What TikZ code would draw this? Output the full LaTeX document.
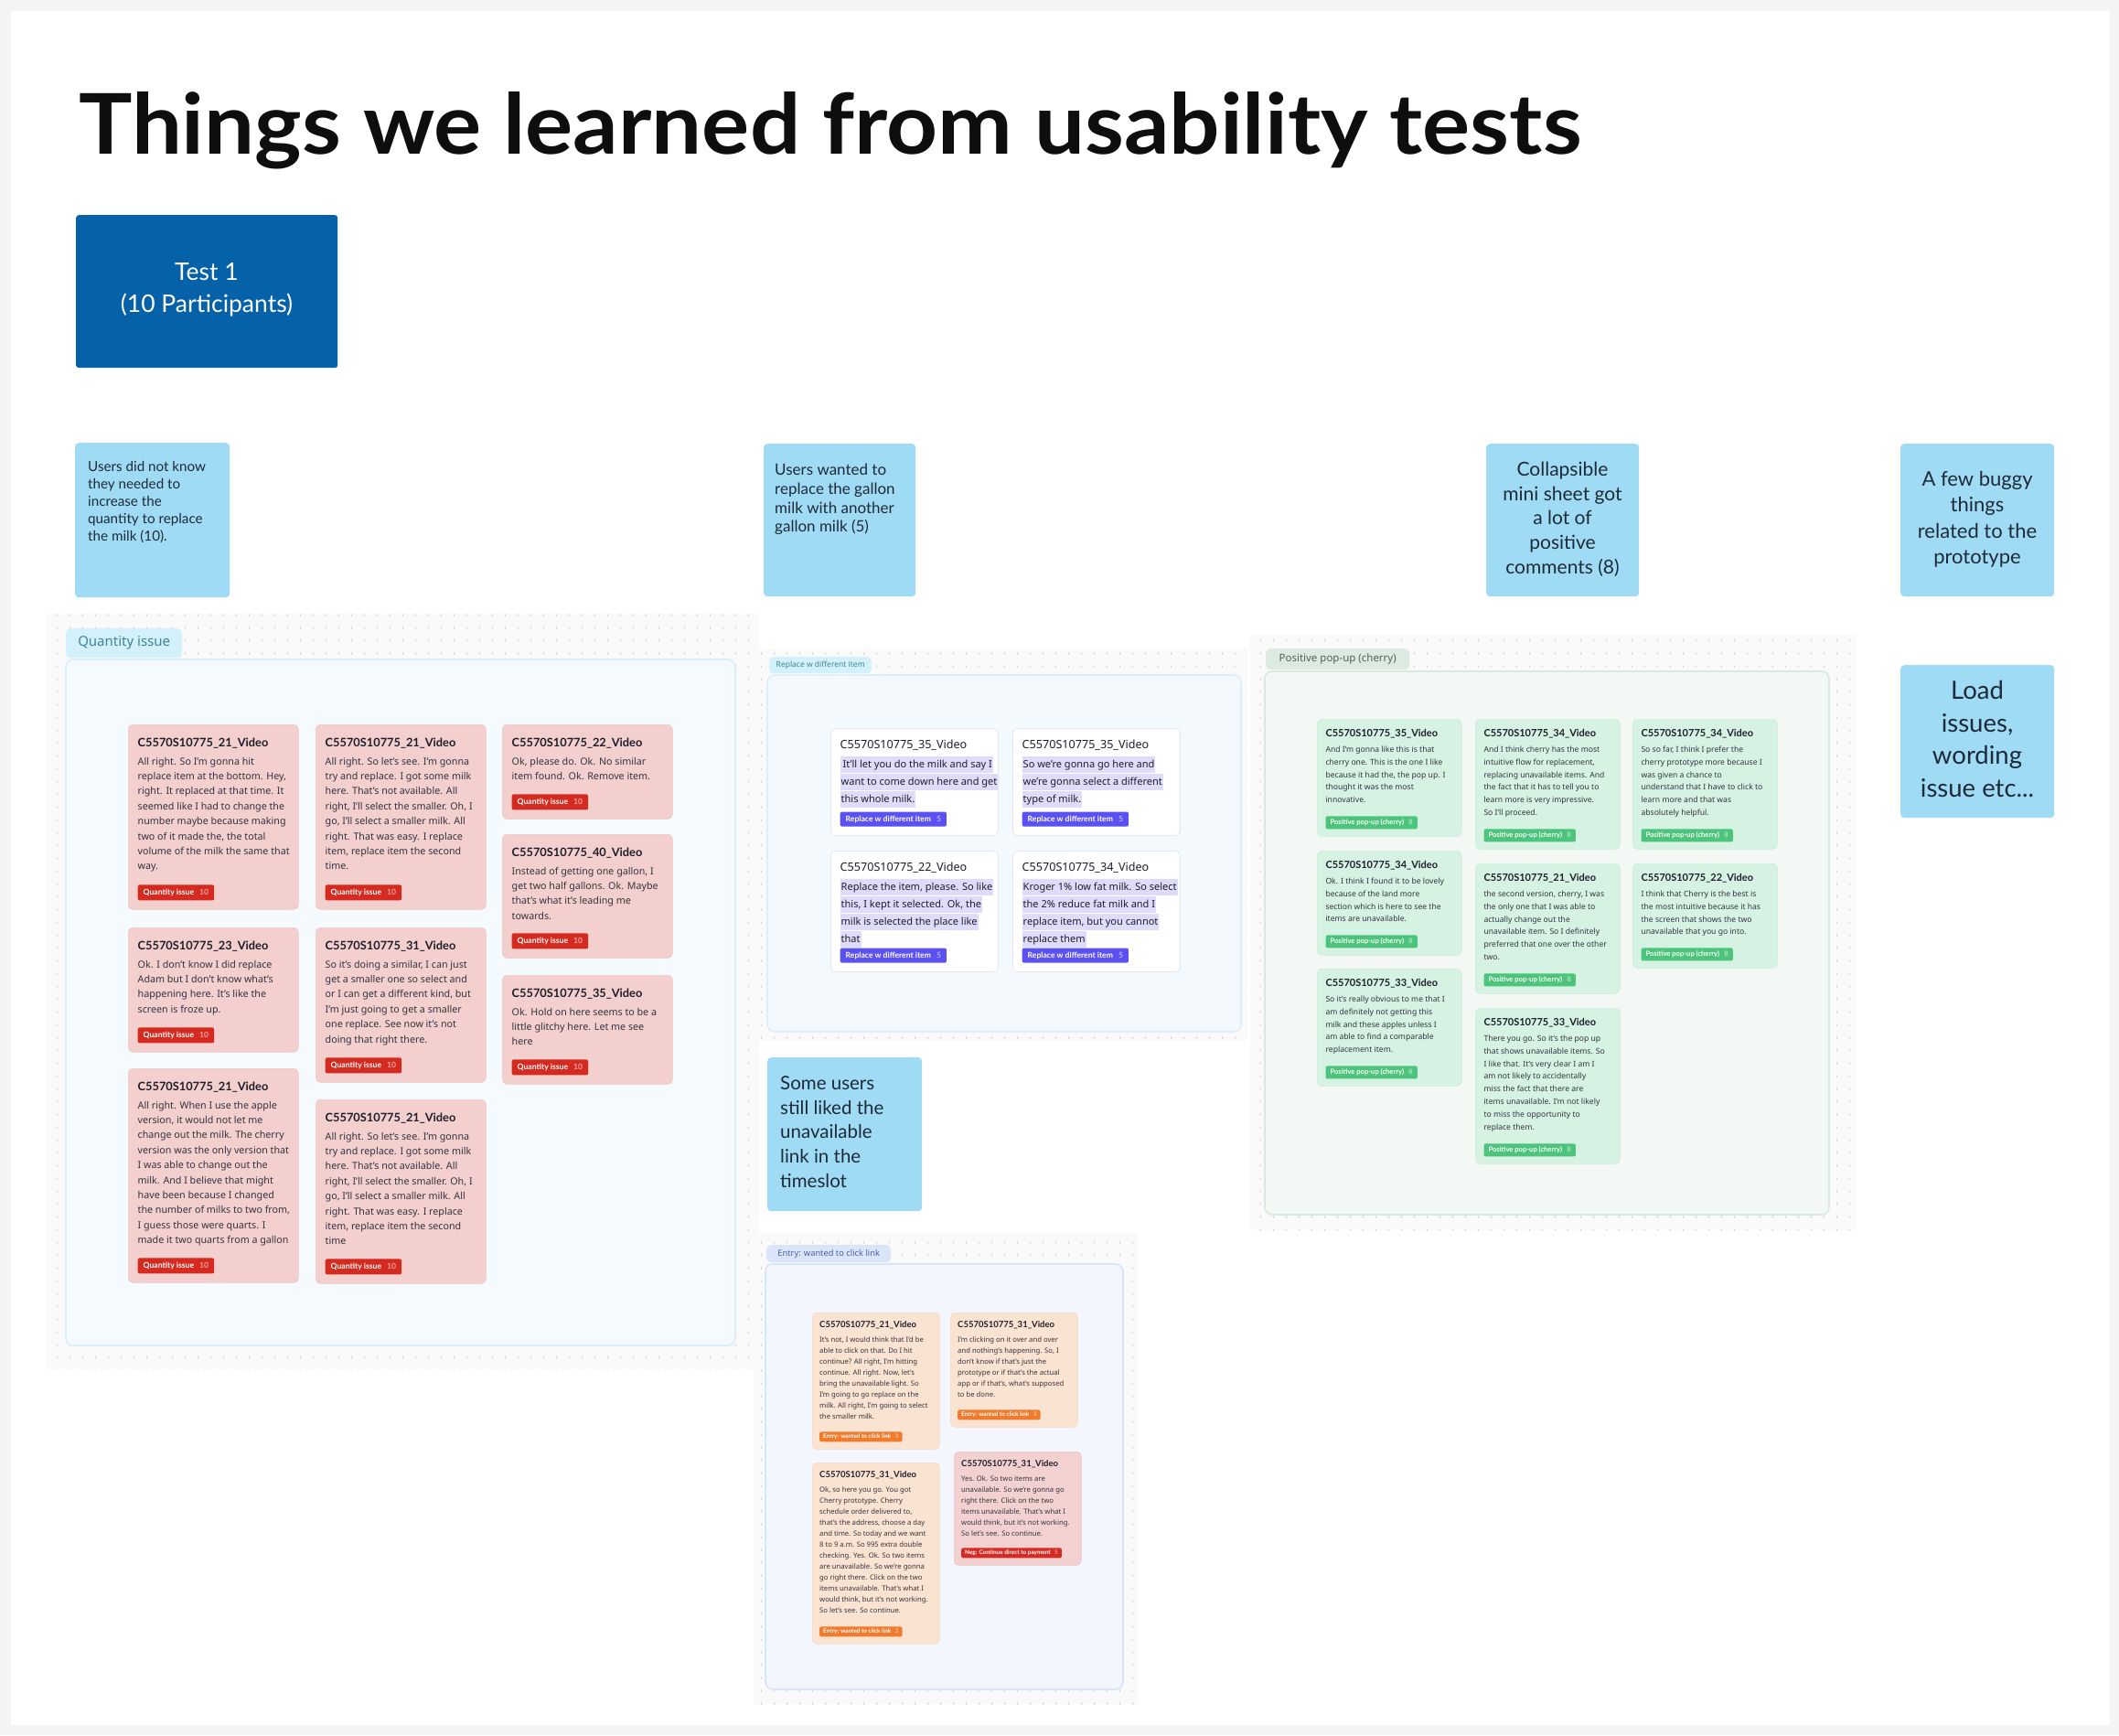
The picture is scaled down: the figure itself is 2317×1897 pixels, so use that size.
\documentclass[tikz,border=0pt]{standalone}
\usepackage{fontspec}
\usepackage{graphicx}
\usetikzlibrary{patterns}
\setmainfont{Noto Sans}
\newfontfamily\latof{Lato}
\definecolor{pagebg}{HTML}{F4F4F4}
\definecolor{regfill}{HTML}{FAFAFA}
\definecolor{dotc}{HTML}{D2D2D2}
\definecolor{ink}{HTML}{1E1E2A}
\definecolor{bodyc}{HTML}{33333F}
\definecolor{qfill}{HTML}{F3CFCE}
\definecolor{qedge}{HTML}{EDC4C3}
\definecolor{qtagc}{HTML}{D42A20}
\definecolor{pfill}{HTML}{D5F2E2}
\definecolor{pedge}{HTML}{CBEBD9}
\definecolor{ptagc}{HTML}{4CC47C}
\definecolor{efill}{HTML}{FBE3D1}
\definecolor{eedge}{HTML}{F4D8C4}
\definecolor{etagc}{HTML}{F07B2D}
\definecolor{e4fill}{HTML}{F3D1D1}
\definecolor{e4edge}{HTML}{EBC3C3}
\definecolor{ntagc}{HTML}{D52B24}
\definecolor{redge}{HTML}{E4E7ED}
\definecolor{rtagc}{HTML}{5B50F2}
\definecolor{hlc}{HTML}{DFDCFB}
\definecolor{qin}{HTML}{F4FAFD}
\definecolor{qinedge}{HTML}{D6EFFA}
\definecolor{qpill}{HTML}{D3F1FA}
\definecolor{qlabt}{HTML}{3F8396}
\definecolor{rin}{HTML}{F4F9FD}
\definecolor{rinedge}{HTML}{DCEFFA}
\definecolor{pin}{HTML}{F3F8F5}
\definecolor{pinedge}{HTML}{D8EADF}
\definecolor{ppill}{HTML}{DCEAE1}
\definecolor{plabt}{HTML}{4A6656}
\definecolor{ein}{HTML}{F3F7FD}
\definecolor{einedge}{HTML}{D8E4FA}
\definecolor{epill}{HTML}{DBE5FA}
\definecolor{elabt}{HTML}{4762A6}
\definecolor{stickyc}{HTML}{A0DBF6}
\definecolor{stink}{HTML}{1D2A38}
\definecolor{testc}{HTML}{0561A8}
\definecolor{titlec}{HTML}{0E0E0E}

\pgfdeclarepatternformonly{gdots}{\pgfqpoint{0pt}{0pt}}{\pgfqpoint{14pt}{14pt}}{\pgfqpoint{14pt}{14pt}}{\pgfpathrectangle{\pgfqpoint{6.4pt}{5.8pt}}{\pgfqpoint{1.2pt}{2.4pt}}\pgfusepath{fill}}

\setlength{\fboxsep}{1pt}
\newcommand\vid[1]{C5570S10775\_#1\_Video}
\newcommand\hlr[1]{\colorbox{hlc}{\strut #1}}
\newcommand\card[6]{%
  \node[cbox, minimum width=\kw, minimum height=#4pt, anchor=north west] (#1) at (#2,#3) {};
  \node[ttl, anchor=base west] (#1-t) at ([xshift=\ki, yshift=-\kt]#1.north west) {#5};
  \node[bdy, anchor=north west] (#1-b) at ([xshift=\ki, yshift=-\kb]#1.north west) {\rule{0pt}{1em}#6};
}
\newcommand\ctag[4]{%
  \node[tagbox, fill=#4, anchor=south west] (#1-g) at ([xshift=\ki, yshift=\kg]#1.south west) {#2\hspace{0.7em}{\color{white!55!#4}#3}};
}

\begin{document}
\begin{tikzpicture}[x=1pt, y=-1pt,
  region/.style={fill=regfill, postaction={pattern=gdots, pattern color=dotc}},
  frame/.style={rounded corners=8pt, line width=1.6pt},
  pill/.style={rounded corners=5pt, inner sep=0pt, anchor=north west},
  sticky/.style={fill=stickyc, rounded corners=4pt, inner sep=0pt, anchor=north west},
  stxt/.style={inner sep=0pt, text=stink},
  qbox/.style={fill=qfill, draw=qedge, line width=0.6pt, rounded corners=5pt, inner sep=0pt},
  qttl/.style={inner sep=0pt, text=ink, font=\latof\fontsize{12.8}{15}\selectfont\bfseries},
  qbdy/.style={inner sep=0pt, align=left, text=bodyc, font=\fontsize{10.7}{16.4}\selectfont},
  qtag/.style={rounded corners=2pt, inner xsep=6pt, inner ysep=0pt, minimum height=17pt, text=white, font=\latof\fontsize{8.6}{10}\selectfont\bfseries},
  rbox/.style={fill=white, draw=redge, line width=0.8pt, rounded corners=5pt, inner sep=0pt},
  rttl/.style={inner sep=0pt, text=ink, font=\fontsize{12.6}{15}\selectfont},
  rbdy/.style={inner sep=0pt, align=left, text=ink, font=\fontsize{11}{16}\selectfont},
  rtag/.style={rounded corners=2pt, inner xsep=6pt, inner ysep=0pt, minimum height=16pt, text=white, font=\latof\fontsize{8.6}{10}\selectfont\bfseries},
  pbox/.style={fill=pfill, draw=pedge, line width=0.6pt, rounded corners=5pt, inner sep=0pt},
  pttl/.style={inner sep=0pt, text=ink, font=\latof\fontsize{11}{13}\selectfont\bfseries},
  pbdy/.style={inner sep=0pt, align=left, text=bodyc, font=\fontsize{8.6}{13.8}\selectfont},
  ptag/.style={rounded corners=2pt, inner xsep=5pt, inner ysep=0pt, minimum height=14pt, text=white, font=\latof\fontsize{7.6}{9}\selectfont\bfseries},
  ebox/.style={fill=efill, draw=eedge, line width=0.6pt, rounded corners=5pt, inner sep=0pt},
  ettl/.style={inner sep=0pt, text=ink, font=\latof\fontsize{9.5}{11}\selectfont\bfseries},
  ebdy/.style={inner sep=0pt, align=left, text=bodyc, font=\fontsize{7.7}{12}\selectfont},
  etag/.style={rounded corners=2pt, inner xsep=4pt, inner ysep=0pt, minimum height=11pt, text=white, font=\latof\fontsize{6.4}{8}\selectfont\bfseries}
]
\path[use as bounding box] (0,0) rectangle (2317,1897);
\fill[pagebg] (0,0) rectangle (2317,1897);
\fill[white] (12,12) rectangle (2307,1886);

% title
\node[inner sep=0pt, anchor=base west, text=titlec] (title) at (86,168) {\resizebox{1643pt}{68pt}{\latof\bfseries\fontsize{90}{100}\selectfont Things we learned from usability tests}};

% test 1
\node[fill=testc, rounded corners=3pt, minimum width=286pt, minimum height=167pt, anchor=north west, inner sep=0pt] (test) at (83,235) {};
\node[inner sep=0pt, align=center, text=white, anchor=north, font=\latof\fontsize{26.5}{35}\selectfont] (testt) at (226,280) {\rule{0pt}{1em}Test 1\\(10 Participants)};

% regions
\path[region] (50,671) rectangle (830,1497);
\path[region] (826,709) rectangle (1364,1138);
\path[region] (1367,694) rectangle (2029,1345);
\path[region] (824,1348) rectangle (1244,1863);

\draw[frame, fill=qin, draw=qinedge] (72,721) rectangle (804,1471);
\draw[frame, fill=rin, draw=rinedge] (839,738) rectangle (1357,1128);
\draw[frame, fill=pin, draw=pinedge] (1383,734) rectangle (2000,1328);
\draw[frame, fill=ein, draw=einedge] (837,1382) rectangle (1228,1847);

\node[pill, fill=qpill, text=qlabt, minimum width=127pt, minimum height=32pt, font=\fontsize{15}{18}\selectfont] (qlab) at (72,687) {Quantity issue};
\node[pill, fill=qpill, text=qlabt, minimum width=112pt, minimum height=18pt, font=\fontsize{8.5}{10}\selectfont] (rlab) at (841,718) {Replace w different item};
\node[pill, fill=ppill, text=plabt, minimum width=157pt, minimum height=23pt, font=\fontsize{11.5}{13}\selectfont] (plab) at (1384,709) {Positive pop-up (cherry)};
\node[pill, fill=epill, text=elabt, minimum width=136pt, minimum height=19pt, font=\fontsize{9.3}{11}\selectfont] (elab) at (838,1361) {Entry: wanted to click link};

% ---------------- Quantity cards
\tikzset{cbox/.style={qbox}, ttl/.style={qttl}, bdy/.style={qbdy}, tagbox/.style={qtag}}
\def\kw{186pt}\def\ki{10.5pt}\def\kt{24.5pt}\def\kb{33.2pt}\def\kg{10pt}
\card{q1}{140}{792}{202}{\vid{21}}{All right. So I'm gonna hit\\replace item at the bottom. Hey,\\right. It replaced at that time. It\\seemed like I had to change the\\number maybe because making\\two of it made the, the total\\volume of the milk the same that\\way.}
\ctag{q1}{Quantity issue}{10}{qtagc}
\card{q2}{345}{792}{202}{\vid{21}}{All right. So let's see. I'm gonna\\try and replace. I got some milk\\here. That's not available. All\\right, I'll select the smaller. Oh, I\\go, I'll select a smaller milk. All\\right. That was easy. I replace\\item, replace item the second\\time.}
\ctag{q2}{Quantity issue}{10}{qtagc}
\card{q3}{549}{792}{103}{\vid{22}}{Ok, please do. Ok. No similar\\item found. Ok. Remove item.}
\ctag{q3}{Quantity issue}{10}{qtagc}
\card{q4}{549}{912}{135}{\vid{40}}{Instead of getting one gallon, I\\get two half gallons. Ok. Maybe\\that's what it's leading me\\towards.}
\ctag{q4}{Quantity issue}{10}{qtagc}
\card{q5}{140}{1014}{136}{\vid{23}}{Ok. I don't know I did replace\\Adam but I don't know what's\\happening here. It's like the\\screen is froze up.}
\ctag{q5}{Quantity issue}{10}{qtagc}
\card{q6}{345}{1014}{169}{\vid{31}}{So it's doing a similar, I can just\\get a smaller one so select and\\or I can get a different kind, but\\I'm just going to get a smaller\\one replace. See now it's not\\doing that right there.}
\ctag{q6}{Quantity issue}{10}{qtagc}
\card{q7}{549}{1066}{119}{\vid{35}}{Ok. Hold on here seems to be a\\little glitchy here. Let me see\\here}
\ctag{q7}{Quantity issue}{10}{qtagc}
\card{q8}{140}{1168}{234}{\vid{21}}{All right. When I use the apple\\version, it would not let me\\change out the milk. The cherry\\version was the only version that\\I was able to change out the\\milk. And I believe that might\\have been because I changed\\the number of milks to two from,\\I guess those were quarts. I\\made it two quarts from a gallon}
\ctag{q8}{Quantity issue}{10}{qtagc}
\card{q9}{345}{1202}{201}{\vid{21}}{All right. So let's see. I'm gonna\\try and replace. I got some milk\\here. That's not available. All\\right, I'll select the smaller. Oh, I\\go, I'll select a smaller milk. All\\right. That was easy. I replace\\item, replace item the second\\time}
\ctag{q9}{Quantity issue}{10}{qtagc}

% ---------------- Replace cards
\tikzset{cbox/.style={rbox}, ttl/.style={rttl}, bdy/.style={rbdy}, tagbox/.style={rtag}}
\def\kw{183pt}\def\ki{10.5pt}\def\kt{22.5pt}\def\kb{30.7pt}\def\kg{10pt}
\card{r1}{908}{796}{117}{\vid{35}}{\hlr{\hspace{2pt}It'll let you do the milk and say I}\\\hlr{want to come down here and get}\\\hlr{this whole milk.}}
\ctag{r1}{Replace w different item}{5}{rtagc}
\card{r2}{1107}{796}{117}{\vid{35}}{\hlr{So we're gonna go here and}\\\hlr{we're gonna select a different}\\\hlr{type of milk.}}
\ctag{r2}{Replace w different item}{5}{rtagc}
\card{r3}{908}{930}{132}{\vid{22}}{\hlr{Replace the item, please. So like}\\\hlr{this, I kept it selected. Ok, the}\\\hlr{milk is selected the place like}\\\hlr{that}}
\ctag{r3}{Replace w different item}{5}{rtagc}
\card{r4}{1107}{930}{132}{\vid{34}}{\hlr{Kroger 1\% low fat milk. So select}\\\hlr{the 2\% reduce fat milk and I}\\\hlr{replace item, but you cannot}\\\hlr{replace them}}
\ctag{r4}{Replace w different item}{5}{rtagc}

% ---------------- Positive cards
\tikzset{cbox/.style={pbox}, ttl/.style={pttl}, bdy/.style={pbdy}, tagbox/.style={ptag}}
\def\kw{158pt}\def\ki{9.3pt}\def\kt{19.9pt}\def\kb{27.7pt}\def\kg{8pt}
\card{pA}{1440}{786}{128}{\vid{35}}{And I'm gonna like this is that\\cherry one. This is the one I like\\because it had the, the pop up. I\\thought it was the most\\innovative.}
\ctag{pA}{Positive pop-up (cherry)}{8}{ptagc}
\card{pB}{1613}{786}{142}{\vid{34}}{And I think cherry has the most\\intuitive flow for replacement,\\replacing unavailable items. And\\the fact that it has to tell you to\\learn more is very impressive.\\So I'll proceed.}
\ctag{pB}{Positive pop-up (cherry)}{8}{ptagc}
\card{pC}{1785}{786}{142}{\vid{34}}{So so far, I think I prefer the\\cherry prototype more because I\\was given a chance to\\understand that I have to click to\\learn more and that was\\absolutely helpful.}
\ctag{pC}{Positive pop-up (cherry)}{8}{ptagc}
\card{pD}{1440}{930}{114}{\vid{34}}{Ok. I think I found it to be lovely\\because of the land more\\section which is here to see the\\items are unavailable.}
\ctag{pD}{Positive pop-up (cherry)}{8}{ptagc}
\card{pE}{1613}{944}{142}{\vid{21}}{the second version, cherry, I was\\the only one that I was able to\\actually change out the\\unavailable item. So I definitely\\preferred that one over the other\\two.}
\ctag{pE}{Positive pop-up (cherry)}{8}{ptagc}
\card{pF}{1785}{944}{114}{\vid{22}}{I think that Cherry is the best is\\the most intuitive because it has\\the screen that shows the two\\unavailable that you go into.}
\ctag{pF}{Positive pop-up (cherry)}{8}{ptagc}
\card{pG}{1440}{1059}{128}{\vid{33}}{So it's really obvious to me that I\\am definitely not getting this\\milk and these apples unless I\\am able to find a comparable\\replacement item.}
\ctag{pG}{Positive pop-up (cherry)}{8}{ptagc}
\card{pH}{1613}{1102}{170}{\vid{33}}{There you go. So it's the pop up\\that shows unavailable items. So\\I like that. It's very clear I am I\\am not likely to accidentally\\miss the fact that there are\\items unavailable. I'm not likely\\to miss the opportunity to\\replace them.}
\ctag{pH}{Positive pop-up (cherry)}{8}{ptagc}

% ---------------- Entry cards
\tikzset{cbox/.style={ebox}, ttl/.style={ettl}, bdy/.style={ebdy}, tagbox/.style={etag}}
\def\kw{139pt}\def\ki{8pt}\def\kt{16.3pt}\def\kb{24.4pt}\def\kg{8pt}
\card{e1}{888}{1435}{149}{\vid{21}}{It's not, I would think that I'd be\\able to click on that. Do I hit\\continue? All right, I'm hitting\\continue. All right. Now, let's\\bring the unavailable light. So\\I'm going to go replace on the\\milk. All right, I'm going to select\\the smaller milk.}
\ctag{e1}{Entry: wanted to click link}{3}{etagc}
\card{e2}{1039}{1435}{125}{\vid{31}}{I'm clicking on it over and over\\and nothing's happening. So, I\\don't know if that's just the\\prototype or if that's the actual\\app or if that's, what's supposed\\to be done.}
\ctag{e2}{Entry: wanted to click link}{3}{etagc}
\card{e3}{888}{1599}{198}{\vid{31}}{Ok, so here you go. You got\\Cherry prototype. Cherry\\schedule order delivered to,\\that's the address, choose a day\\and time. So today and we want\\8 to 9 a.m. So 995 extra double\\checking. Yes. Ok. So two items\\are unavailable. So we're gonna\\go right there. Click on the two\\items unavailable. That's what I\\would think, but it's not working.\\So let's see. So continue.}
\ctag{e3}{Entry: wanted to click link}{3}{etagc}
\tikzset{cbox/.style={ebox, fill=e4fill, draw=e4edge}}
\card{e4}{1043}{1587}{124}{\vid{31}}{Yes. Ok. So two items are\\unavailable. So we're gonna go\\right there. Click on the two\\items unavailable. That's what I\\would think, but it's not working.\\So let's see. So continue.}
\ctag{e4}{Neg: Continue direct to payment}{5}{ntagc}

% ---------------- Sticky notes
\node[sticky, minimum width=169pt, minimum height=169pt] (s1) at (82,484) {};
\node[stxt, anchor=north west, align=left, font=\latof\fontsize{15.2}{19}\selectfont] (s1t) at (96,500.5) {\rule{0pt}{1em}Users did not know\\they needed to\\increase the\\quantity to replace\\the milk (10).};

\node[sticky, minimum width=166pt, minimum height=167pt] (s2) at (835,485) {};
\node[stxt, anchor=north west, align=left, font=\latof\fontsize{17}{20.7}\selectfont] (s2t) at (847,502.5) {\rule{0pt}{1em}Users wanted to\\replace the gallon\\milk with another\\gallon milk (5)};

\node[sticky, minimum width=167pt, minimum height=167pt] (s3) at (1625,485) {};
\node[stxt, anchor=north, align=center, font=\latof\fontsize{21}{26.6}\selectfont] (s3t) at (1708.5,499.5) {\rule{0pt}{1em}Collapsible\\mini sheet got\\a lot of\\positive\\comments (8)};

\node[sticky, minimum width=168pt, minimum height=167pt] (s4) at (2078,485) {};
\node[stxt, anchor=north, align=center, font=\latof\fontsize{22}{28.5}\selectfont] (s4t) at (2162,509) {\rule{0pt}{1em}A few buggy\\things\\related to the\\prototype};

\node[sticky, minimum width=168pt, minimum height=167pt] (s5) at (2078,727) {};
\node[stxt, anchor=north, align=center, font=\latof\fontsize{27.5}{35.5}\selectfont] (s5t) at (2162,737) {\rule{0pt}{1em}Load\\issues,\\wording\\issue etc...};

\node[sticky, minimum width=169pt, minimum height=168pt] (s6) at (839,1156) {};
\node[stxt, anchor=north west, align=left, font=\latof\fontsize{20.5}{26.6}\selectfont] (s6t) at (853,1171) {\rule{0pt}{1em}Some users\\still liked the\\unavailable\\link in the\\timeslot};
\end{tikzpicture}
\end{document}
